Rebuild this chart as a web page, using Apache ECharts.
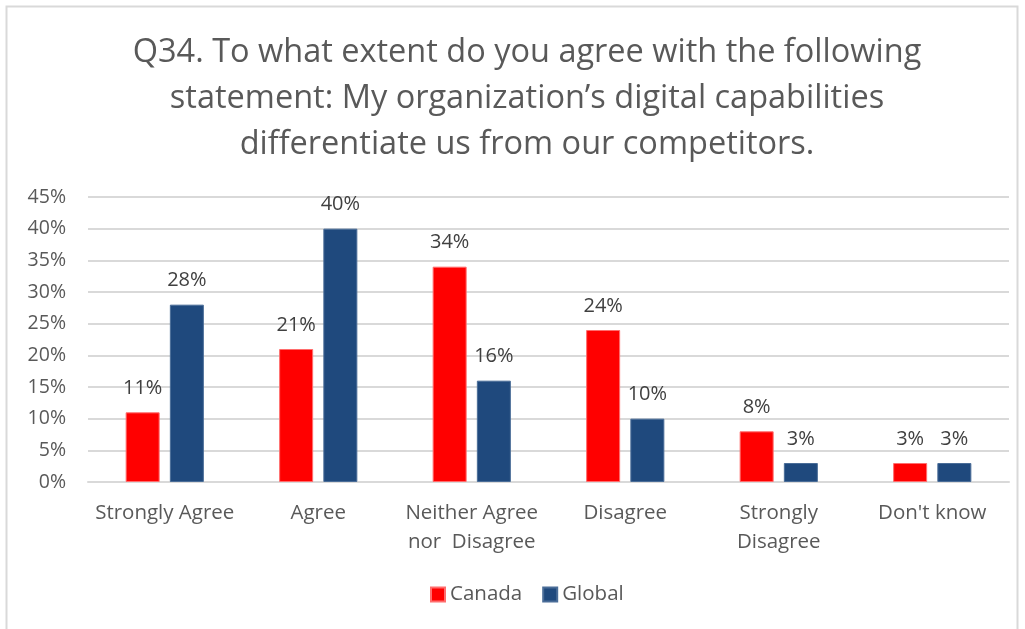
<!DOCTYPE html>
<html>
<head>
<meta charset="utf-8">
<script src="https://cdn.jsdelivr.net/npm/echarts@6/dist/echarts.min.js"></script>
<style>
  html, body { margin: 0; padding: 0; background: #ffffff; }
  #chart { width: 1025px; height: 629px; }
</style>
</head>
<body>
<div id="chart"></div>
<script>
// Survey responses, percent of respondents
const categories = ['Strongly Agree', 'Agree', 'Neither Agree\nnor  Disagree', 'Disagree', 'Strongly\nDisagree', "Don't know"];
const canada = [11, 21, 34, 24, 8, 3];
const global = [28, 40, 16, 10, 3, 3];
const seriesNames = ['Canada', 'Global'];
const titleText = 'Q34. To what extent do you agree with the following\nstatement: My organization\u2019s digital capabilities\ndifferentiate us from our competitors.';

const FONT = '"Open Sans", "Noto Sans", sans-serif';
const chart = echarts.init(document.getElementById('chart'), null, { renderer: 'canvas' });

const labelStyle = {
  show: true,
  position: 'top',
  distance: 14,
  formatter: p => p.value + '%',
  color: '#404040',
  fontFamily: FONT,
  fontSize: 20
};

chart.setOption({
  backgroundColor: '#ffffff',
  animation: false,
  graphic: [{
    type: 'rect',
    shape: { x: 6.5, y: 6.5, width: 1011, height: 640 },
    style: { fill: 'none', stroke: '#d9d9d9', lineWidth: 2 },
    silent: true
  }],
  title: {
    text: titleText,
    left: 522,
    textAlign: 'center',
    top: 25,
    textStyle: {
      color: '#595959',
      fontFamily: FONT,
      fontWeight: 'normal',
      fontSize: 32.5,
      lineHeight: 46
    }
  },
  legend: {
    data: seriesNames,
    bottom: 19,
    left: 425,
    itemWidth: 14,
    itemHeight: 14,
    itemGap: 20,
    icon: 'rect',
    textStyle: { color: '#595959', fontFamily: FONT, fontSize: 20.5 }
  },
  grid: { left: 88, right: 16, top: 197, bottom: 147, containLabel: false },
  xAxis: {
    type: 'category',
    data: categories,
    axisLine: { show: true, lineStyle: { color: '#d9d9d9', width: 2 } },
    axisTick: { show: false },
    axisLabel: {
      color: '#595959',
      fontFamily: FONT,
      fontSize: 20.5,
      margin: 17,
      lineHeight: 29,
      interval: 0
    }
  },
  yAxis: {
    type: 'value',
    min: 0,
    max: 45,
    interval: 5,
    axisLine: { show: false },
    axisTick: { show: false },
    axisLabel: {
      formatter: '{value}%',
      color: '#595959',
      fontFamily: FONT,
      fontSize: 19.5,
      margin: 22
    },
    splitLine: { lineStyle: { color: '#d9d9d9', width: 2 } }
  },
  series: [
    {
      name: seriesNames[0],
      type: 'bar',
      data: canada,
      barWidth: 34,
      barGap: '30%',
      itemStyle: { color: '#ff0000', borderColor: '#ff6d6d', borderWidth: 1 },
      label: labelStyle
    },
    {
      name: seriesNames[1],
      type: 'bar',
      data: global,
      barWidth: 34,
      barGap: '30%',
      itemStyle: { color: '#1f497d', borderColor: '#4a6d98', borderWidth: 1 },
      label: labelStyle
    }
  ]
});
</script>
</body>
</html>
